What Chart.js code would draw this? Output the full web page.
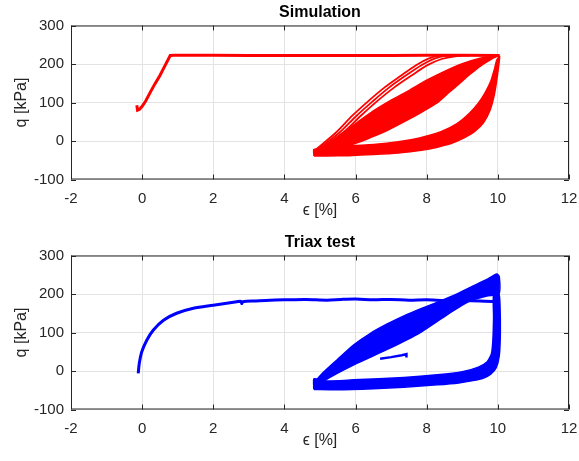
<!DOCTYPE html>
<html><head><meta charset="utf-8">
<script src="https://cdn.jsdelivr.net/npm/chart.js@4"></script>
<style>
html,body{margin:0;padding:0;background:#fff;}
#wrap{position:relative;width:579px;height:461px;background:#fff;}
.c{position:absolute;left:0;width:579px;height:230px;}
</style></head><body>
<div id="wrap">
<div class="c" style="top:0"><canvas id="c1" width="579" height="230"></canvas></div>
<div class="c" style="top:230px"><canvas id="c2" width="579" height="230"></canvas></div>
</div>
<script>
// ---- tick labels ----
const xTicks = [-2, 0, 2, 4, 6, 8, 10, 12];
const yTicks = [-100, 0, 100, 200, 300];

// ---- Simulation (red) ----
const simLoadX = [-0.15, -0.13, -0.08, 0.0, 0.1, 0.22, 0.35, 0.5, 0.65, 0.79, 0.9, 2, 3, 4, 5, 6, 7, 8, 9, 10.05];
const simLoadY = [93, 80, 82, 90, 104, 125, 147, 170, 197, 222, 223, 223, 222, 222, 222, 222, 222, 223, 223, 222];
// lower (unloading) band outline
const simLowX = [4.83, 5.2, 5.8, 6.5, 7.2, 7.8, 8.3, 8.7, 9.05, 9.35, 9.6, 9.78, 9.9, 9.98, 10.05, 9.97, 9.9, 9.8, 9.64, 9.45, 9.2, 8.85, 8.4, 7.8, 7.2, 6.5, 5.77, 5.2, 4.83, 4.83];
const simLowY = [-39, -39, -38, -35, -31, -25, -16, -6, 8, 25, 48, 80, 120, 165, 220, 210, 185, 155, 125, 98, 72, 45, 24, 8, -2, -9, -13, -20, -22, -39];
// upper (reloading) band outline
const simUpX = [4.83, 5.2, 5.6, 6.0, 6.5, 7.0, 7.5, 8.0, 8.5, 9.0, 9.5, 9.85, 10.02, 9.88, 9.5, 9.2, 8.94, 8.6, 8.29, 7.8, 7.36, 6.9, 6.42, 6.1, 5.77, 5.3, 4.9, 4.83];
const simUpY = [-30, -8, 18, 45, 78, 106, 131, 158, 181, 201, 215, 221, 222, 216, 194, 172, 151, 124, 99, 72, 50, 28, 9, -3, -13, -25, -35, -30];
// early reloading cycles (thin)
const simCycAX = [4.85, 5.45, 5.9, 6.35, 6.8, 7.25, 7.7, 8.05, 8.35, 8.7];
const simCycAY = [-25, 22, 65, 103, 138, 168, 197, 214, 221, 222];
const simCycBX = [4.9, 5.55, 6.02, 6.48, 6.93, 7.38, 7.85, 8.22, 8.55, 8.9];
const simCycBY = [-25, 22, 65, 103, 138, 168, 197, 214, 221, 222];
const simCycCX = [4.95, 5.65, 6.14, 6.6, 7.07, 7.54, 8.02, 8.42, 8.8, 9.2];
const simCycCY = [-25, 22, 65, 103, 138, 168, 197, 213, 220, 222];

// ---- Triax test (blue) ----
const triLoadX = [-0.11, -0.08, -0.01, 0.13, 0.31, 0.6, 0.97, 1.44, 2.0, 2.66, 2.78, 2.8, 2.83, 3.2, 3.6, 4.0, 4.6, 5.2, 5.6, 6.0, 6.5, 7.0, 7.5, 8.0, 8.5, 9.0, 9.5, 10.0];
const triLoadY = [-6, 20, 50, 80, 106, 132, 150, 163, 171, 180, 181, 175, 180, 182, 184, 185, 186, 184, 186, 187, 185, 186, 184, 185, 183, 183, 182, 180];
const triLowX = [4.83, 5.49, 6.5, 7.36, 8.3, 8.9, 9.3, 9.6, 9.8, 9.95, 10.04, 10.07, 10.06, 10.03, 9.88, 9.88, 9.86, 9.82, 9.7, 9.45, 9.0, 8.3, 7.36, 5.95, 5.1, 4.83, 4.83];
const triLowY = [-48, -49, -46, -42, -36, -31, -25, -18, -8, 8, 40, 100, 170, 200, 197, 140, 80, 45, 24, 10, -2, -10, -17, -23, -26, -20, -48];
const triUpX = [4.83, 5.11, 5.49, 5.95, 6.42, 6.89, 7.36, 7.82, 8.29, 8.76, 9.22, 9.69, 9.97, 10.04, 10.03, 9.69, 9.22, 8.57, 7.82, 6.89, 5.95, 5.1, 4.83, 4.83];
const triUpY = [-30, -2, 30, 68, 98, 122, 143, 161, 178, 196, 217, 238, 252, 245, 200, 195, 182, 146, 100, 56, 16, -26, -45, -30];
const triHookX = [6.69, 7.0, 7.3, 7.43, 7.43];
const triHookY = [32, 36, 41, 44, 35];

const F = "'Liberation Sans', Arial, Helvetica, sans-serif";
const AX = '#262626';
const pts = (xs, ys) => xs.map((x, i) => ({x: x, y: ys[i]}));

const line = (xs, ys, col, w, t) => ({data: pts(xs, ys), showLine: true, borderColor: col, borderWidth: w, pointRadius: 0, fill: false, tension: t});
const band = (xs, ys, col) => ({data: pts(xs, ys), showLine: true, borderColor: col, backgroundColor: col, borderWidth: 1.5, pointRadius: 0, fill: 'shape', tension: 0.2});

const boxPlugin = {
  id: 'matlabBox',
  afterDatasetsDraw(chart) {
    const {ctx, chartArea: a, scales} = chart;
    ctx.save();
    ctx.strokeStyle = AX;
    ctx.lineWidth = 1;
    ctx.strokeRect(a.left + 0.5, a.top + 0.5, a.right - a.left - 1, a.bottom - a.top - 1);
    const L = 5;
    ctx.beginPath();
    xTicks.forEach(v => {
      const px = Math.round(scales.x.getPixelForValue(v)) + 0.5;
      ctx.moveTo(px, a.bottom); ctx.lineTo(px, a.bottom - L);
      ctx.moveTo(px, a.top); ctx.lineTo(px, a.top + L);
    });
    yTicks.forEach(v => {
      const py = Math.round(scales.y.getPixelForValue(v)) + 0.5;
      ctx.moveTo(a.left, py); ctx.lineTo(a.left + L, py);
      ctx.moveTo(a.right, py); ctx.lineTo(a.right - L, py);
    });
    ctx.stroke();
    ctx.restore();
  }
};

function makeChart(id, title, datasets) {
  return new Chart(document.getElementById(id), {
    type: 'scatter',
    data: {datasets: datasets},
    options: {
      responsive: false, animation: false, devicePixelRatio: 1,
      layout: {padding: {left: 0, right: 10, top: 0, bottom: 0}},
      plugins: {
        legend: {display: false}, tooltip: {enabled: false},
        title: {display: true, text: title, fullSize: false, color: '#000',
                font: {family: F, size: 16, weight: 'bold'}, padding: {top: 3, bottom: 3.3}}
      },
      scales: {
        x: {type: 'linear', min: -2, max: 12, position: 'bottom',
            afterBuildTicks: s => { s.ticks = xTicks.map(v => ({value: v})); },
            afterFit: s => { s.height = 50.5; s.paddingLeft = 0; s.paddingRight = 0; },
            grid: {color: '#e3e3e3', drawTicks: false, lineWidth: 1},
            border: {display: false},
            ticks: {padding: 10, color: AX, font: {family: F, size: 15}},
            title: {display: true, text: 'ϵ [%]', color: AX, font: {family: F, size: 16}, padding: {top: 0, bottom: 10}}},
        y: {type: 'linear', min: -100, max: 300, position: 'left',
            afterBuildTicks: s => { s.ticks = yTicks.map(v => ({value: v})); },
            afterFit: s => { s.width = 71; s.paddingTop = 0; s.paddingBottom = 0; },
            grid: {color: '#e3e3e3', drawTicks: false, lineWidth: 1},
            border: {display: false},
            ticks: {padding: 7, color: AX, font: {family: F, size: 15}},
            title: {display: true, text: 'q [kPa]', color: AX, font: {family: F, size: 16}, padding: {top: 12, bottom: 0}}}
      }
    },
    plugins: [boxPlugin]
  });
}

const RED = '#ff0000', BLUE = '#0000ff';
makeChart('c1', 'Simulation', [
  band(simLowX, simLowY, RED),
  band(simUpX, simUpY, RED),
  line(simCycAX, simCycAY, RED, 1.8, 0.3),
  line(simCycBX, simCycBY, RED, 1.8, 0.3),
  line(simCycCX, simCycCY, RED, 1.8, 0.3),
  line(simLoadX, simLoadY, RED, 3, 0)
]);
makeChart('c2', 'Triax test', [
  band(triLowX, triLowY, BLUE),
  band(triUpX, triUpY, BLUE),
  line(triHookX, triHookY, BLUE, 2.5, 0),
  line(triLoadX, triLoadY, BLUE, 3, 0.3)
]);
</script>
</body></html>
